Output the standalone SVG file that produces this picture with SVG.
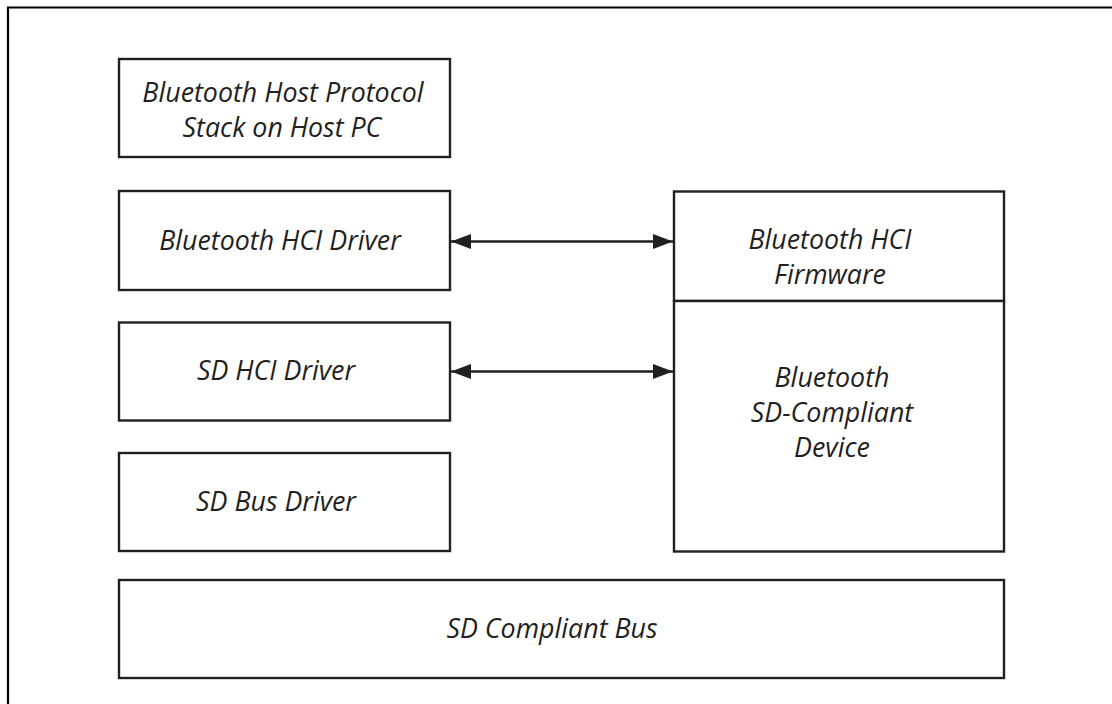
<svg xmlns="http://www.w3.org/2000/svg" width="1112" height="704" viewBox="0 0 1112 704">
<style>
.box{fill:#ffffff;stroke:#231f20;stroke-width:2.4}
.lbl{font-family:"Open Sans","Liberation Sans",sans-serif;font-style:italic;font-size:26.8px;fill:#231f20;text-anchor:middle}
.conn{stroke:#231f20;stroke-width:2.4;fill:none}
</style>
<defs>
<marker id="ah" viewBox="0 0 20 15" refX="20" refY="7.5" markerWidth="20" markerHeight="15" markerUnits="userSpaceOnUse" orient="auto-start-reverse">
<path d="M0,0 L20,7.5 L0,15 Z" fill="#231f20"/>
</marker>
</defs>
<rect width="1112" height="704" fill="#ffffff"/>
<path d="M8,704 L8,7.5 L1112,7.5" fill="none" stroke="#000000" stroke-width="2.2"/>
<g id="host-stack">
<rect class="box" x="119" y="59" width="331" height="98"/>
<text class="lbl" x="283" y="102">Bluetooth Host Protocol</text>
<text class="lbl" x="282" y="137">Stack on Host PC</text>
</g>
<g id="bt-hci-driver">
<rect class="box" x="119" y="191" width="331" height="99"/>
<text class="lbl" x="280" y="250">Bluetooth HCI Driver</text>
</g>
<g id="sd-hci-driver">
<rect class="box" x="119" y="322.5" width="331" height="98"/>
<text class="lbl" x="276" y="380">SD HCI Driver</text>
</g>
<g id="sd-bus-driver">
<rect class="box" x="119" y="453" width="331" height="98"/>
<text class="lbl" x="276" y="511">SD Bus Driver</text>
</g>
<g id="bt-hci-firmware">
<rect class="box" x="674" y="191.5" width="330" height="109.5"/>
<text class="lbl" x="830" y="249">Bluetooth HCI</text>
<text class="lbl" x="830" y="284">Firmware</text>
</g>
<g id="bt-sd-device">
<rect class="box" x="674" y="301" width="330" height="250.5"/>
<text class="lbl" x="832" y="387">Bluetooth</text>
<text class="lbl" x="832" y="422">SD-Compliant</text>
<text class="lbl" x="832" y="457">Device</text>
</g>
<g id="sd-compliant-bus">
<rect class="box" x="119" y="580" width="885" height="98"/>
<text class="lbl" x="552" y="638">SD Compliant Bus</text>
</g>
<g id="connectors">
<line class="conn" x1="451" y1="241.5" x2="673" y2="241.5" marker-start="url(#ah)" marker-end="url(#ah)"/>
<line class="conn" x1="451" y1="371.5" x2="673" y2="371.5" marker-start="url(#ah)" marker-end="url(#ah)"/>
</g>
</svg>
